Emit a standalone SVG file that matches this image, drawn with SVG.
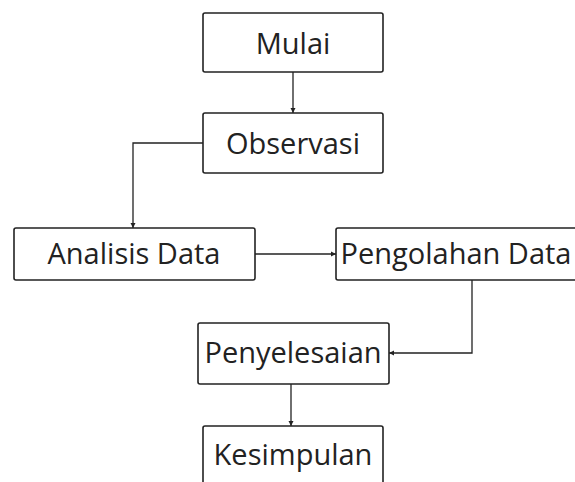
<svg xmlns="http://www.w3.org/2000/svg" width="575" height="482" viewBox="0 0 575 482">
<defs>
<marker id="ah" markerWidth="6" markerHeight="6" refX="5" refY="3" orient="auto" markerUnits="userSpaceOnUse">
<path d="M0,0.5 L5,3 L0,5.5 Z" fill="#222"/>
</marker>
<style>
.box{fill:#fff;stroke:#222;stroke-width:1.6}
.lbl{font-family:"Open Sans","Liberation Sans",sans-serif;font-size:29px;fill:#222;text-anchor:middle}
.con{fill:none;stroke:#222;stroke-width:1.3;marker-end:url(#ah)}
</style>
</defs>
<rect width="575" height="482" fill="#fff"/>
<g id="connectors">
<path class="con" d="M293,72 V113"/>
<path class="con" d="M203,143 H133 V228"/>
<path class="con" d="M255,254 H336"/>
<path class="con" d="M472,280 V353 H389"/>
<path class="con" d="M291,384 V426"/>
</g>
<g id="mulai"><rect class="box" x="203" y="13" width="180" height="59" rx="2"/><text class="lbl" x="293" y="54">Mulai</text></g>
<g id="observasi"><rect class="box" x="203" y="113" width="180" height="60" rx="2"/><text class="lbl" x="293" y="154">Observasi</text></g>
<g id="analisis"><rect class="box" x="14" y="228" width="241" height="52" rx="2"/><text class="lbl" x="134" y="264">Analisis Data</text></g>
<g id="pengolahan"><rect class="box" x="336" y="228" width="250" height="52" rx="2"/><text class="lbl" x="456" y="264">Pengolahan Data</text></g>
<g id="penyelesaian"><rect class="box" x="198" y="323" width="191" height="61" rx="2"/><text class="lbl" x="293" y="363">Penyelesaian</text></g>
<g id="kesimpulan"><rect class="box" x="203" y="426" width="180" height="70" rx="2"/><text class="lbl" x="293" y="465">Kesimpulan</text></g>
</svg>
